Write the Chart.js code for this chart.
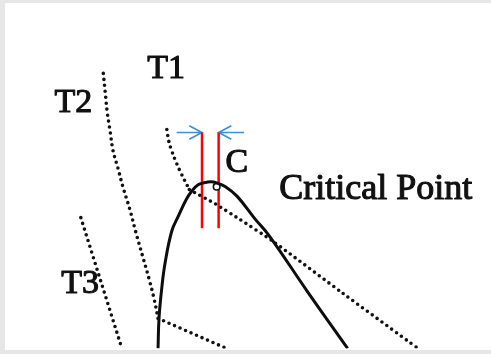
<!DOCTYPE html>
<html>
<head>
<meta charset="utf-8">
<script src="https://cdn.jsdelivr.net/npm/chart.js@4/dist/chart.umd.min.js"></script>
<style>
  html, body { margin: 0; padding: 0; background: #ffffff; }
  body { width: 491px; height: 354px; overflow: hidden; }
  canvas { display: block; }
</style>
</head>
<body>
<canvas id="c" width="491" height="354"></canvas>
<script>
// Phase envelope (saturation curve) around the critical point
const envelopeX = [156, 157, 160, 163, 170, 177, 185, 191, 197, 203, 210, 216, 225, 237, 255, 270, 308, 350];
const envelopeY = [0, 31, 64, 87, 121, 137, 154, 163, 169, 171, 172, 171, 167, 157, 134, 116, 60, 0];

// Isotherm T1: steep part above the envelope, then the flatter part through the two-phase region
const t1UpperX = [165, 167, 170, 175, 180, 188];
const t1UpperY = [226, 214, 204, 191, 180, 164];
const t1LowerX = [188, 215, 240, 273, 345, 422];
const t1LowerY = [164, 149, 133, 111, 57, 0];

// Isotherm T2 and its branch inside the envelope
const t2X = [100, 102, 104, 107, 110, 115, 120, 127, 133, 140, 147, 152, 156];
const t2Y = [284, 264, 244, 224, 204, 186, 167, 144, 121, 96, 71, 51, 31];
const t2BranchX = [156, 226];
const t2BranchY = [31, 0];

// Isotherm T3
const t3X = [77, 119];
const t3Y = [135, 0];

// Critical point marker
const criticalX = [216];
const criticalY = [167];

// Vertical guide lines bracketing the critical region
const guideX = [201, 218];
const guideTop = 223;
const guideBottom = 124;

// Arrows pointing at the guide lines: [tail x, tip x]
const arrowLeft = [175, 201];
const arrowRight = [244, 218];
const arrowY = 223;
const arrowHeadLen = 13;
const arrowHeadHalf = 7;

// Text labels: text, left x, baseline y, font size
const labelText = ['T1', 'T2', 'T3', 'C', 'Critical Point'];
const labelX = [145, 50, 57, 225, 280];
const labelY = [279, 244, 57, 182, 154];
const labelSize = [34, 34, 34, 34, 36];

const zip = (xs, ys) => xs.map((x, i) => ({ x, y: ys[i] }));

function arrowPoints(tail, tip) {
  const dir = Math.sign(tip - tail);
  const back = tip - dir * arrowHeadLen;
  return [
    { x: tail, y: arrowY }, { x: tip, y: arrowY }, { x: NaN, y: NaN },
    { x: back, y: arrowY + arrowHeadHalf }, { x: tip, y: arrowY }, { x: back, y: arrowY - arrowHeadHalf }
  ];
}

const dotted = (data) => ({
  data, showLine: true, borderColor: '#111111', borderWidth: 3.6,
  borderDash: [0, 6], borderCapStyle: 'round', pointRadius: 0, tension: 0.4, fill: false
});

const datasets = [
  dotted(zip(t1UpperX, t1UpperY)),
  Object.assign(dotted(zip(t1LowerX, t1LowerY)), { tension: 0.2 }),
  dotted(zip(t2X, t2Y)),
  Object.assign(dotted(zip(t2BranchX, t2BranchY)), { tension: 0 }),
  Object.assign(dotted(zip(t3X, t3Y)), { tension: 0 }),
  {
    data: zip(envelopeX, envelopeY), showLine: true, borderColor: '#0d0d0d',
    borderWidth: 3, pointRadius: 0, tension: 0.4, fill: false
  },
  {
    data: zip(criticalX, criticalY), showLine: false, pointRadius: 3.3,
    pointBackgroundColor: '#ffffff', pointBorderColor: '#111111', pointBorderWidth: 1.6
  },
  ...guideX.map(x => ({
    data: [{ x, y: guideTop }, { x, y: guideBottom }], showLine: true,
    borderColor: '#ff0000', borderWidth: 2.5, pointRadius: 0, tension: 0
  })),
  ...[arrowPoints(arrowLeft[0], arrowLeft[1]), arrowPoints(arrowRight[0], arrowRight[1])].map(d => ({
    data: d, showLine: true, spanGaps: false, borderColor: '#3d8fd6',
    borderWidth: 1.6, pointRadius: 0, tension: 0
  }))
];

const labelPlugin = {
  id: 'diagramLabels',
  afterDatasetsDraw(chart) {
    const { ctx, scales: { x, y } } = chart;
    ctx.save();
    ctx.fillStyle = '#111111';
    ctx.strokeStyle = '#111111';
    ctx.lineWidth = 1.1;
    ctx.lineJoin = 'round';
    ctx.textAlign = 'left';
    ctx.textBaseline = 'alphabetic';
    labelText.forEach((t, i) => {
      ctx.font = labelSize[i] + 'px "Liberation Serif", "DejaVu Serif", serif';
      const px = x.getPixelForValue(labelX[i]);
      const py = y.getPixelForValue(labelY[i]);
      ctx.fillText(t, px, py);
      ctx.strokeText(t, px, py);
    });
    ctx.restore();
  }
};

// Grey paper frame on the left, top and bottom edges
const framePlugin = {
  id: 'paperFrame',
  afterDraw(chart) {
    const { ctx, width, height } = chart;
    ctx.save();
    ctx.fillStyle = '#e6e6e6';
    ctx.fillRect(0, 0, width, 3);
    ctx.fillRect(0, 0, 5, height);
    ctx.fillRect(0, 350, width, height - 350);
    ctx.restore();
  }
};

new Chart(document.getElementById('c'), {
  type: 'scatter',
  data: { datasets },
  options: {
    responsive: false,
    animation: false,
    devicePixelRatio: 1,
    layout: { padding: 0 },
    plugins: { legend: { display: false }, tooltip: { enabled: false } },
    scales: {
      x: { type: 'linear', min: 0, max: 491, display: false },
      y: { type: 'linear', min: 0, max: 354, display: false }
    }
  },
  plugins: [labelPlugin, framePlugin]
});
</script>
</body>
</html>
